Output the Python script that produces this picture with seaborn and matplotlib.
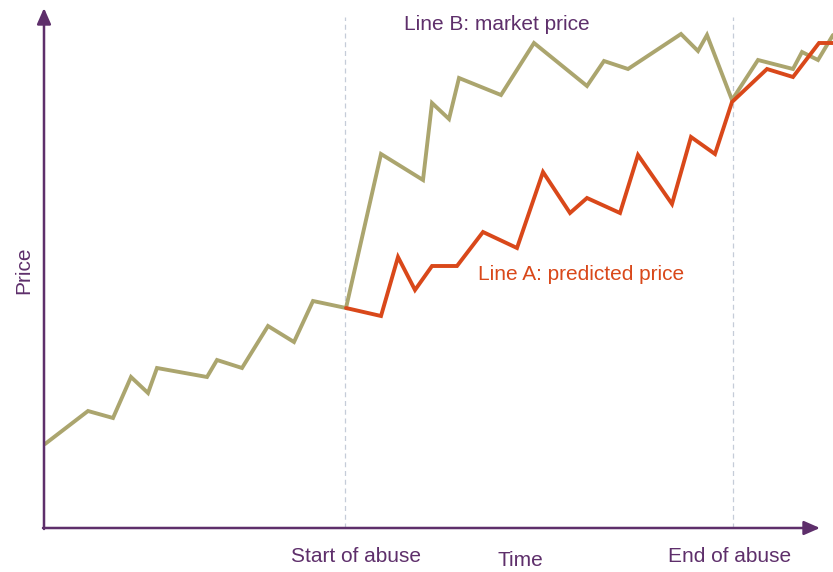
import matplotlib
matplotlib.use("Agg")
import matplotlib.pyplot as plt
import seaborn as sns
import pandas as pd

# Time (x) and price (y) values (origin at the axes corner)
time_b = [1, 44, 69, 87, 104, 113, 163, 173, 198, 224, 250, 269, 302, 337,
          379, 388, 405, 415, 457, 490, 543, 560, 584, 637, 654, 663, 688,
          714, 749, 758, 774, 789]
price_b = [84, 117, 110, 151, 135, 160, 151, 168, 160, 202, 186, 227, 220, 374,
           348, 425, 409, 450, 433, 485, 442, 467, 459, 494, 477, 493, 428,
           468, 459, 476, 468, 493]

time_a = [302, 337, 354, 371, 388, 413, 439, 473, 499, 526, 543, 576, 594,
          628, 647, 671, 688, 723, 749, 775, 789]
price_a = [220, 212, 271, 238, 262, 262, 296, 280, 356, 315, 330, 315, 373,
           324, 391, 374, 426, 459, 451, 485, 485]

label_b = "Line B: market price"
label_a = "Line A: predicted price"
abuse_start, abuse_end = 301, 689
x_labels = ["Start of abuse", "Time", "End of abuse"]

PURPLE = "#5E2F6B"
OLIVE = "#ABA56E"
ORANGE = "#D9481A"

sns.set_theme(style="white")
plt.rcParams["font.family"] = ["Liberation Sans", "DejaVu Sans"]

df = pd.concat([
    pd.DataFrame({"time": time_b, "price": price_b, "line": "B"}),
    pd.DataFrame({"time": time_a, "price": price_a, "line": "A"}),
])

W, H = 833, 572
fig = plt.figure(figsize=(W / 100, H / 100), dpi=100)
ax = fig.add_axes([44 / W, 44 / H, (W - 44) / W, (H - 44) / H])
ax.set_xlim(0, W - 44)
ax.set_ylim(0, H - 44)

for x in (abuse_start, abuse_end):
    ax.plot([x, x], [0, 511], color="#C5CCD8", lw=0.9, ls=(0, (4, 3)), zorder=1)

sns.lineplot(data=df, x="time", y="price", hue="line",
             palette={"B": OLIVE, "A": ORANGE}, hue_order=["B", "A"],
             lw=2.8, legend=False, ax=ax, zorder=3, sort=False,
             solid_joinstyle="miter")

for s in ax.spines.values():
    s.set_visible(False)
ax.set_xticks([])
ax.set_yticks([])
ax.set_xlabel("")
ax.set_ylabel("")

# axes with arrows
ax.annotate("", xy=(0, 520), xytext=(0, -1),
            arrowprops=dict(arrowstyle="-|>,head_length=0.8,head_width=0.35",
                            color=PURPLE, lw=1.8, shrinkA=0, shrinkB=0),
            annotation_clip=False)
ax.annotate("", xy=(776, 0), xytext=(-1, 0),
            arrowprops=dict(arrowstyle="-|>,head_length=0.8,head_width=0.35",
                            color=PURPLE, lw=1.8, shrinkA=0, shrinkB=0),
            annotation_clip=False)

fs = 15
ax.text(404 - 44, 528 - 25, label_b, color=PURPLE, fontsize=fs,
        ha="left", va="center")
ax.text(478 - 44, 528 - 275, label_a, color=ORANGE, fontsize=fs,
        ha="left", va="center")
ax.text(24 - 44, 528 - 270, "Price", color=PURPLE, fontsize=fs, rotation=90,
        ha="center", va="center")
ax.text(356 - 44, -28, x_labels[0], color=PURPLE, fontsize=fs,
        ha="center", va="center")
ax.text(520 - 44, -32, x_labels[1], color=PURPLE, fontsize=fs,
        ha="center", va="center")
ax.text(730 - 44, -28, x_labels[2], color=PURPLE, fontsize=fs,
        ha="center", va="center")

fig.savefig("out.png", dpi=100)
